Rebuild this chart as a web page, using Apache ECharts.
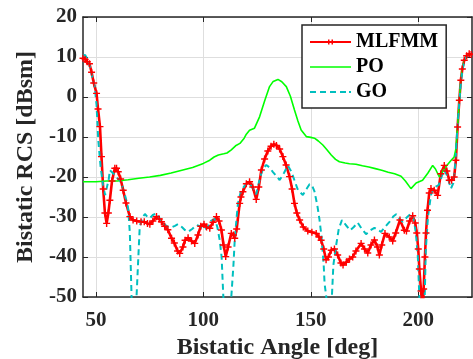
<!DOCTYPE html>
<html><head><meta charset="utf-8">
<script src="https://cdn.jsdelivr.net/npm/echarts@6/dist/echarts.min.js"></script>
<style>html,body{margin:0;padding:0;background:#fff}#c{width:473px;height:359px}</style>
</head><body><div id="c"></div>
<script>
const xTicks = [50, 100, 150, 200];
const mlfmmX = [44,45,46,47,48,49,50.3,51,51.9,52.6,53.4,54.2,55,55.8,56.5,57.5,58.8,59.6,60.4,61.5,62.7,64,65.8,67.3,69,71,72.5,74,75.1,76.5,78.2,79.5,80.5,82,83.5,85.2,86.5,88,89,90.5,91.5,92.9,94.5,96,97.5,98.8,100.3,101.5,103,104.5,106.1,107.3,108.4,109.4,110.4,111.5,113,114,114.6,115.5,116.9,117.5,118.4,120,121.5,123,124.6,125.8,127,128.5,130,131.5,132.8,134,135.5,137,138.5,140.1,141.3,142.4,143.5,144.8,146.5,148.6,150.5,152.5,153.8,154.8,156,157.1,158.2,159.5,161,162.5,164,165,166.5,168,169.5,171,173.4,175,176.5,178,179.6,181,181.9,183,184.5,186.5,188.1,189.5,191.5,193.5,194.5,196,197.4,198.6,199.3,200,200.5,201.3,202,202.5,203.1,203.6,204.3,205.1,205.9,207.4,209,210.5,212.1,213.3,214.4,215.5,216.7,217.5,218.3,219.1,219.8,220.5,221.4,222.5,223.7,224.6];
const mlfmmY = [9.7,9.4,8.8,8.3,6.2,3.5,0.9,-3,-7.4,-14.9,-23,-29,-31.6,-29,-25.8,-21,-17.8,-17.8,-18.7,-20.5,-23.3,-26.5,-29.9,-30.75,-31,-31.2,-31.2,-31.6,-31.8,-31,-29.9,-30.5,-31.2,-32.3,-33.2,-35.3,-36.5,-38.5,-39.1,-37.5,-35.8,-35.2,-36,-36.6,-34.5,-32.3,-31.8,-32.5,-32.8,-31.3,-29.9,-31,-33.25,-37,-39.9,-37.5,-34.1,-34.5,-35.3,-33,-26.6,-25,-23.7,-21.7,-21.2,-22.5,-25.6,-22.5,-18.25,-15.5,-13.5,-12.3,-11.8,-12.1,-13,-14.9,-17,-19.9,-23,-26.6,-29,-30.75,-32.5,-33.5,-33.8,-34.1,-35,-35.8,-38,-40.7,-40,-38.3,-38,-39.5,-41.5,-42,-41.3,-40.5,-40,-38.5,-36.6,-38,-39,-37,-35.75,-37.5,-39.5,-37,-34.1,-35,-36,-34,-30.75,-33.3,-33.5,-31,-29.7,-31.5,-34,-38,-43,-48.5,-56,-48,-40,-34,-28.3,-24,-22.9,-23.3,-24.6,-19.2,-17.1,-18.5,-20.8,-20.8,-20,-15.8,-7.5,-0.8,4.2,7,9.2,10.3,10.8,10.6];
const poX = [44,50,55,60,65,70,75,80,85,90,95,100,103,105,107,109.5,111,113,115,117,119,120,121.5,123.8,126.2,128.5,130.8,132.5,134.7,136.5,138.6,140.5,142.4,144,145.5,147.9,150,151.7,153.5,155.6,157.5,159.5,161.5,163.3,166,168,171,174,177,180,183,186,189,192,194,196.6,199,202,204.5,206.7,208,209.8,211.5,213,215,216.7,217.5,218.3,219.1,219.8,220.5,221.4,222.5,223.7,224.6];
const poY = [-21.2,-21.2,-21,-21,-20.7,-20.3,-20,-19.6,-19,-18.3,-17.6,-16.6,-15.8,-15,-14.5,-14.2,-14,-13.2,-12.2,-11.6,-10.3,-9.3,-8.3,-7.8,-4.9,-1,2.6,3.9,4.4,3.8,2.6,0.2,-3.25,-6,-8.25,-9.9,-10.1,-10.3,-11,-12,-13.2,-14.5,-15.6,-16.2,-16.5,-16.7,-16.8,-17.2,-17.5,-17.9,-18.3,-18.8,-19.2,-19.8,-21,-22.9,-21.5,-20.8,-19,-17.1,-18,-20,-18.5,-17.3,-16,-15,-13,-7.5,-0.8,4.2,7,9.2,10.3,10.8,10.6];
const goX = [44,45,46,47.2,48.5,49.5,50.3,51.1,52.2,53.4,54.3,55,56,56.5,57.5,58.8,60,61.1,62.5,64,65,65.8,66.6,67.7,68.9,70.4,71.5,72.8,74,75.1,76.5,78.2,79.8,81.3,83,85.2,86.8,88.2,90,91.5,92.9,94.8,96.8,98.5,100.6,102,103.5,105.3,106.5,107.6,108.5,109.3,111.5,113,114,114.6,115.5,116.1,117.5,119.2,120.5,122.3,123.8,124.6,126,127,128,129.3,130.8,132.3,134,135.5,137.5,139.3,141,142.5,144,146.3,148,149.4,150.5,151.7,153,154,155,156,156.4,157.2,158.7,159.8,160.5,161.8,163,164.5,166.3,168.3,170,171.8,173.5,175.7,177.5,179.6,181,182.7,184.5,186.6,188.5,189.7,191.3,192.7,194.5,196.6,198,198.9,199.8,200.5,201.8,203,203.5,204.5,205.9,207,208.2,209.5,210.5,212,213.3,215.2,216.3,217.2,218,219,219.8,220.8,222,223.5,224.6];
const goY = [10.3,10.5,9.5,7.6,4.5,2.4,-2,-10.75,-17.5,-22.4,-24.5,-24.5,-20.5,-18.3,-18.8,-19.5,-20.3,-20.75,-22.5,-25.5,-27.8,-34,-50,-62,-50,-32.4,-30.3,-29.25,-30,-30.3,-29.5,-29.1,-30.5,-31.5,-32.3,-32.6,-32.2,-31.8,-32.5,-33.3,-33.7,-33,-32,-32.3,-33.2,-32.5,-31,-30.5,-32.5,-35.75,-40,-50,-62,-50,-42,-35.75,-30,-26.6,-23.5,-22.2,-21.5,-22.2,-23.7,-24.3,-21,-19.1,-17.7,-17,-17.6,-18.7,-19.8,-20.75,-19,-17.1,-18.7,-21,-23.25,-24.5,-23,-21.8,-22,-23.6,-27,-30.5,-35,-42,-46.6,-50,-62,-50,-42,-37,-33,-30.75,-32,-33.3,-32.5,-31.4,-32.8,-34.3,-33.4,-32.7,-33.2,-33.7,-32.5,-31.2,-29.8,-29.3,-30.5,-31.2,-30.2,-29.1,-30.8,-34.1,-40,-50,-62,-50,-38.3,-30,-24.5,-23,-22.4,-22,-20.5,-18.2,-19.5,-22.9,-21.5,-17,-9.5,-2,3.5,7.5,9.8,10.6,10.5];

const pairs = (xs, ys) => xs.map((x, i) => [x, ys[i]]);
const FONT = 'Liberation Serif';
const TXT = '#262626';
const plus = 'path://M2,0H3V2H5V3H3V5H2V3H0V2H2Z';
// legend icons (line samples); the tiny corner points fix the icon box
const iconMl = 'path://M0,0L0,0M41,14L41,14M0,6H18V4.5H19.5V6H21.5V4.5H23V6H41V8H23V9.5H21.5V8H19.5V9.5H18V8H0Z';
const iconPo = 'path://M0,0L0,0M41,14L41,14M0,6.2H41V7.8H0Z';
const iconGo = 'path://M0,0L0,0M41,14L41,14M0,6H6V8H0ZM10,6H16V8H10ZM20,6H26V8H20ZM30,6H36V8H30ZM39,6H41V8H39Z';

const chart = echarts.init(document.getElementById('c'), null, {renderer: 'canvas'});
const baseX = {
  type: 'value', min: 44, max: 225,
  axisLine: {show: true, onZero: false, lineStyle: {color: TXT, width: 1.5}},
  axisTick: {show: true, inside: true, length: 5, customValues: xTicks, lineStyle: {color: TXT}},
  splitLine: {show: false}
};
chart.setOption({
  animation: false,
  grid: {left: 83, right: 1, top: 17, bottom: 62, containLabel: false, outerBoundsMode: 'none', show: false},
  legend: {
    orient: 'vertical', left: 302, top: 25,
    padding: [7, 8, 6, 8], itemGap: 5, itemWidth: 41, itemHeight: 14,
    backgroundColor: '#fff', borderColor: TXT, borderWidth: 1.5,
    textStyle: {fontFamily: FONT, fontWeight: 'bold', fontSize: 20, color: '#000', lineHeight: 20},
    data: [{name: 'MLFMM', icon: iconMl}, {name: 'PO', icon: iconPo}, {name: 'GO', icon: iconGo}]
  },
  xAxis: [
    Object.assign({}, baseX, {
      position: 'bottom',
      name: 'Bistatic Angle [deg]', nameLocation: 'middle', nameGap: 39,
      nameTextStyle: {fontFamily: FONT, fontWeight: 'bold', fontSize: 24, color: TXT},
      axisLabel: {customValues: xTicks, margin: 13, fontFamily: FONT, fontWeight: 'bold', fontSize: 21, color: TXT},
      splitLine: {show: true, lineStyle: {color: '#dedede', width: 1}}
    }),
    Object.assign({}, baseX, {position: 'top', axisLabel: {show: false}})
  ],
  yAxis: [
    {
      type: 'value', min: -50, max: 20, interval: 10, position: 'left',
      name: 'Bistatic RCS [dBsm]', nameLocation: 'middle', nameGap: 37,
      nameTextStyle: {fontFamily: FONT, fontWeight: 'bold', fontSize: 24, color: TXT},
      axisLine: {show: true, onZero: false, lineStyle: {color: TXT, width: 1.5}},
      axisTick: {show: true, inside: true, length: 5, lineStyle: {color: TXT}},
      axisLabel: {margin: 6, fontFamily: FONT, fontWeight: 'bold', fontSize: 21, color: TXT},
      splitLine: {show: true, lineStyle: {color: '#dedede', width: 1}}
    },
    {
      type: 'value', min: -50, max: 20, interval: 10, position: 'right',
      axisLine: {show: true, onZero: false, lineStyle: {color: TXT, width: 1.5}},
      axisTick: {show: true, inside: true, length: 5, lineStyle: {color: TXT}},
      axisLabel: {show: false}, splitLine: {show: false}
    }
  ],
  series: [
    {name: 'MLFMM', type: 'line', data: pairs(mlfmmX, mlfmmY), color: '#ff0000',
     symbol: plus, symbolSize: 7, showSymbol: true, showAllSymbol: true,
     itemStyle: {color: '#ff0000'}, lineStyle: {color: '#ff0000', width: 2.6}},
    {name: 'PO', type: 'line', data: pairs(poX, poY), color: '#00ff00', showSymbol: false, symbol: 'none',
     lineStyle: {color: '#00ff00', width: 1.6}},
    {name: 'GO', type: 'line', data: pairs(goX, goY), color: '#00bfbf', showSymbol: false, symbol: 'none',
     lineStyle: {color: '#00bfbf', width: 2, type: [6, 4]}}
  ]
});
</script></body></html>
